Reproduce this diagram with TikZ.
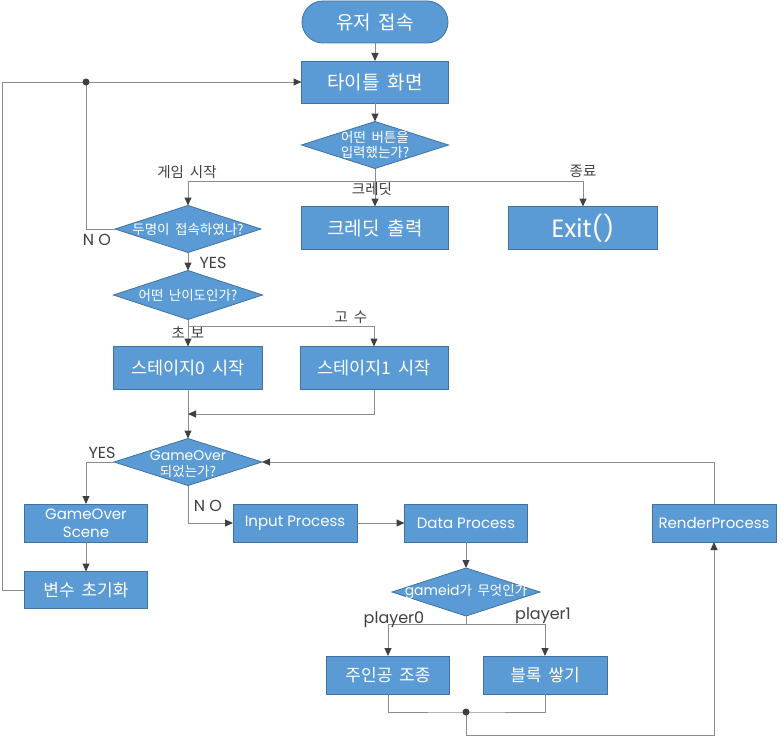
\documentclass[tikz,border=0pt]{standalone}
\usepackage{fontspec}
\setmainfont{Noto Sans CJK KR}[WordSpace=1.8]
\newfontfamily\latf{Poppins}
\usetikzlibrary{arrows.meta,shapes.geometric}
\definecolor{boxfill}{RGB}{91,155,213}
\definecolor{boxline}{RGB}{65,113,156}
\definecolor{linec}{RGB}{140,140,140}
\definecolor{tipc}{RGB}{64,64,64}
\definecolor{labc}{RGB}{64,64,64}
\newcommand\sz[2]{\fontsize{#1bp}{#2bp}\selectfont}
\begin{document}
\begin{tikzpicture}[x=1bp,y=-1bp,
  box/.style={draw=boxline, fill=boxfill, line width=0.8bp, text=white, inner sep=0pt, outer sep=0pt, align=center},
  dia/.style={diamond, draw=boxline, fill=boxfill, line width=0.8bp, inner sep=0pt, outer sep=0pt},
  dtext/.style={text=white, align=center, inner sep=0pt},
  lab/.style={text=labc, inner sep=0pt},
  conn/.style={draw=linec, line width=1bp},
  arr/.style={conn, -{Triangle[length=8bp,width=7bp,color=tipc]}},
  jdot/.style={circle, fill=tipc, inner sep=0pt, minimum size=7bp}
]
\useasboundingbox (0,0) rectangle (784,736);
% nodes
\node[box, rounded corners=21bp, minimum width=146bp, minimum height=42bp, font=\sz{19}{22}] (start) at (375,22) {유저 접속};
\node[box, minimum width=147bp, minimum height=42bp, font=\sz{19}{22}] (title) at (375,82) {타이틀 화면};
\node[dia, minimum width=147bp, minimum height=47bp, label={[dtext, font=\sz{13.5}{15}]center:{어떤 버튼을\\입력했는가?}}] (q1) at (375,145) {};
\node[box, minimum width=147bp, minimum height=43bp, font=\sz{19}{22}] (credit) at (375,228) {크레딧 출력};
\node[box, minimum width=149bp, minimum height=43bp, font=\latf\sz{25}{28}] (exit) at (583,228) {Exit()};
\node[dia, minimum width=146bp, minimum height=47bp, label={[dtext, font=\sz{13.5}{15}]center:{두명이 접속하였나?}}] (q2) at (188,229) {};
\node[dia, minimum width=149bp, minimum height=49bp, label={[dtext, font=\sz{13.5}{15}]center:{어떤 난이도인가?}}] (q3) at (188,295) {};
\node[box, minimum width=149bp, minimum height=43bp, font=\sz{17.5}{20}] (s0) at (188,368) {스테이지0 시작};
\node[box, minimum width=148bp, minimum height=43bp, font=\sz{17.5}{20}] (s1) at (374,368) {스테이지1 시작};
\node[dia, minimum width=148bp, minimum height=47bp, label={[dtext, font=\sz{13.5}{16}, yshift=-2bp]center:{{\latf\sz{14}{16}GameOver}\\되었는가?}}] (q4) at (188,462) {};
\node[box, minimum width=123bp, minimum height=38bp, font=\latf\sz{15}{18}] (gos) at (86,523) {GameOver\\Scene};
\node[box, minimum width=123bp, minimum height=37bp, font=\sz{17}{20}] (reset) at (86,590) {변수 초기화};
\node[box, minimum width=124bp, minimum height=38bp, font=\latf\sz{15}{18}] (inp) at (295,523) {Input Process};
\node[box, minimum width=123bp, minimum height=38bp, font=\latf\sz{15}{18}] (data) at (466,523) {Data Process};
\node[box, minimum width=124bp, minimum height=38bp, font=\latf\sz{15}{18}] (render) at (714,523) {RenderProcess};
\node[dia, minimum width=148bp, minimum height=48bp, label={[dtext, font=\sz{13.5}{15}]center:{{\latf\sz{14}{15}gameid}가 무엇인가}}] (q5) at (466,592) {};
\node[box, minimum width=123bp, minimum height=38bp, font=\sz{17}{20}] (p0) at (388,675) {주인공 조종};
\node[box, minimum width=124bp, minimum height=38bp, font=\sz{17}{20}] (p1) at (545,675) {블록 쌓기};
% junctions
\coordinate (j1) at (375,181);
\coordinate (dot1) at (86,82);
\coordinate (lp) at (2,82);
\coordinate (j3) at (188,326);
\coordinate (m1) at (188,414);
\coordinate (j5) at (466,624);
\coordinate (dot2) at (466,712);
\coordinate (bot) at (466,735);
% connectors
\draw[arr] (start) -- (title);
\draw[arr] (title) -- (q1);
\draw[arr] (q1.south) -- (credit.north);
\draw[arr] (j1) -| (q2.north);
\draw[arr] (j1) -| (exit.north);
\draw[conn] (q2.west) -| (dot1);
\draw[arr] (reset.west) -| (lp) -- (title.west);
\draw[arr] (q2.south) -- (q3.north);
\draw[arr] (q3.south) -- (s0.north);
\draw[arr] (j3) -| (s1.north);
\draw[arr] (s0.south) -- (q4.north);
\draw[arr] (s1.south) |- (m1);
\draw[arr] (q4.west) -| (gos.north);
\draw[arr] (gos) -- (reset);
\draw[arr] (q4.south) |- (inp.west);
\draw[arr] (inp) -- (data);
\draw[arr] (data.south) -- (q5.north);
\draw[conn] (q5.south) -- (j5);
\draw[arr] (j5) -| (p0.north);
\draw[arr] (j5) -| (p1.north);
\draw[conn] (p0.south) |- (dot2) -| (p1.south);
\draw[arr] (dot2) -- (bot) -| (render.south);
\draw[arr] (render.north) |- (q4.east);
\node[jdot] (d1) at (dot1) {};
\node[jdot] (d2) at (dot2) {};
% labels
\node[lab, font=\sz{14.5}{16}] (l1) at (187,172) {게임 시작};
\node[lab, font=\sz{14.5}{16}] (l2) at (372,189) {크레딧};
\node[lab, font=\sz{14.5}{16}] (l3) at (583,171) {종료};
\node[lab, font=\latf\sz{16}{18}] (l4) at (97,240) {N O};
\node[lab, font=\latf\sz{16}{18}] (l5) at (213,263) {YES};
\node[lab, font=\sz{14.5}{16}] (l6) at (188,333) {초 보};
\node[lab, font=\sz{14.5}{16}] (l7) at (351,317) {고 수};
\node[lab, font=\latf\sz{16}{18}] (l8) at (102,453) {YES};
\node[lab, font=\latf\sz{16}{18}] (l9) at (208,506) {N O};
\node[lab, font=\latf\sz{16}{18}] (l10) at (394,620) {player0};
\node[lab, font=\latf\sz{16}{18}] (l11) at (543,616) {player1};
\end{tikzpicture}
\end{document}
